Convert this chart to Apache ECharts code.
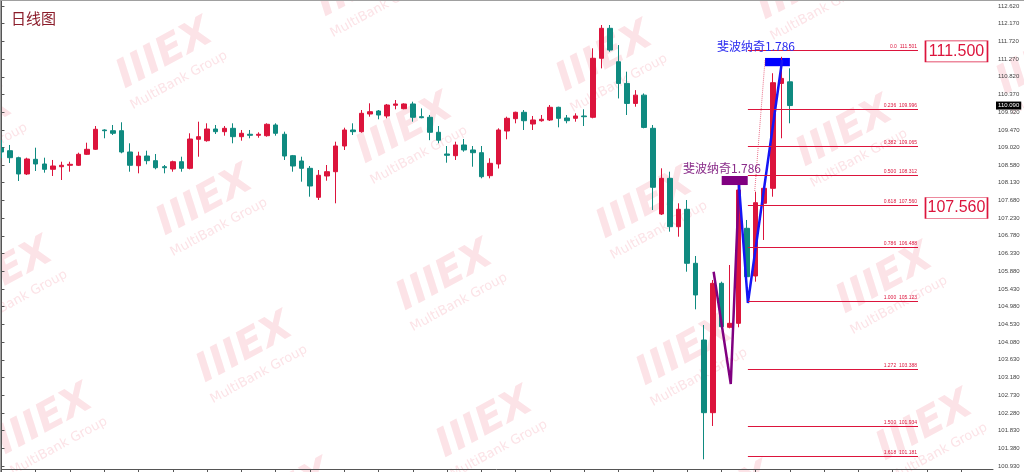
<!DOCTYPE html>
<html><head><meta charset="utf-8">
<script src="https://cdn.jsdelivr.net/npm/echarts@6/dist/echarts.min.js"></script>
<style>
html,body{margin:0;padding:0;background:#fff;}
#wrap{position:relative;width:1024px;height:472px;}
#c{position:absolute;left:0;top:0;width:1024px;height:472px;}
#frame{position:absolute;left:0;top:0;width:1024px;height:472px;border-top:1px solid #a0a0a0;border-left:1px solid #a0a0a0;box-sizing:border-box;pointer-events:none;}
</style>
</head><body>
<div id="wrap"><div id="c"></div><div id="frame"></div></div>
<script>
// ---- daily candles (index 0..92) ----
const opens = [109.011,108.943,108.765,108.351,108.724,108.605,108.470,108.536,108.572,108.572,
108.851,108.978,109.469,109.451,109.451,108.910,108.562,108.808,108.689,108.536,
108.478,108.663,108.495,109.233,109.197,109.494,109.426,109.512,109.299,109.360,
109.334,109.324,109.596,109.360,108.816,108.681,108.495,107.758,108.300,108.409,
109.062,109.469,109.426,109.875,109.952,109.825,110.097,110.010,110.130,109.807,
109.792,109.411,108.859,108.816,109.088,108.961,108.892,108.308,108.605,109.443,
109.756,109.919,109.621,109.705,109.723,110.046,109.774,109.766,109.825,109.792,
111.291,112.053,111.203,110.653,110.144,110.355,109.512,107.334,108.241,107.011,
107.454,106.081,104.132,102.285,105.573,104.455,104.556,106.971,105.759,107.606,
107.987,110.653,110.693];
const closes = [108.910,108.765,108.351,108.732,108.605,108.470,108.554,108.572,108.597,108.851,
108.978,109.487,109.451,109.385,108.910,108.572,108.808,108.689,108.511,108.511,
108.663,108.495,109.240,109.299,109.494,109.426,109.512,109.299,109.385,109.334,
109.360,109.614,109.385,108.808,108.554,108.495,108.046,108.318,108.409,109.062,
109.469,109.426,109.893,109.934,109.850,110.104,110.130,110.130,109.792,109.782,
109.411,109.210,108.826,109.088,108.961,108.892,108.282,108.622,109.469,109.766,
109.919,109.705,109.723,109.741,110.046,109.766,109.705,109.825,109.807,111.291,
112.053,111.501,110.653,110.144,110.355,109.534,108.013,108.241,107.011,107.454,
106.081,105.276,102.285,105.573,104.470,104.556,107.944,105.741,107.621,107.987,
110.671,110.780,110.090];
const highs = [109.215,109.088,108.790,108.765,109.019,108.765,108.707,108.663,108.663,108.892,
109.146,109.570,109.487,109.596,109.665,109.131,108.917,108.943,108.859,108.579,
108.689,108.790,109.385,109.680,109.639,109.596,109.570,109.639,109.469,109.469,
109.410,109.639,109.639,109.426,108.834,108.790,108.554,108.452,108.579,109.172,
109.527,109.639,109.977,110.147,109.977,110.130,110.231,110.147,110.188,110.017,
109.850,109.570,109.062,109.172,109.240,109.062,109.062,108.750,109.512,109.807,
109.934,109.977,109.825,109.850,110.104,110.061,109.850,109.893,109.995,111.545,
112.137,112.137,111.627,110.951,110.482,110.398,109.596,108.495,108.409,107.606,
107.690,106.267,104.513,105.657,105.614,106.038,108.028,107.182,107.901,108.028,
110.911,111.330,111.037];
const lows = [108.757,108.630,108.173,108.325,108.427,108.384,108.300,108.198,108.409,108.554,
108.834,108.961,109.258,109.342,108.877,108.409,108.368,108.597,108.470,108.368,
108.409,108.409,108.470,108.790,109.172,109.367,109.324,109.131,109.197,109.258,
109.273,109.299,109.324,108.707,108.409,108.155,107.774,107.690,108.180,107.606,
108.961,109.342,109.400,109.807,109.741,109.766,109.995,109.995,109.680,109.766,
109.210,109.131,108.638,108.707,108.917,108.536,108.241,108.241,108.490,109.233,
109.639,109.469,109.469,109.680,109.698,109.537,109.639,109.680,109.570,109.766,
111.035,111.458,110.271,109.850,110.061,109.512,107.436,107.309,106.885,106.757,
105.868,104.912,101.100,101.947,104.429,104.429,104.455,105.446,105.614,106.674,
107.774,109.258,109.639];
const lastPrice = 110.090;

// ---- price axis tick labels ----
const yTickLabels = ['112.620','112.170','111.720','111.270','110.820','110.370','109.920','109.470',
'109.020','108.580','108.130','107.680','107.230','106.780','106.330','105.880','105.430','104.980',
'104.530','104.080','103.630','103.180','102.730','102.280','101.830','101.380','100.930'];

// ---- Fibonacci levels ----
const fibRatios = ['0.0','0.236','0.382','0.500','0.618','0.786','1.000','1.272','1.500','1.618'];
const fibPrices = [111.501,109.996,109.065,108.312,107.560,106.488,105.123,103.388,101.934,101.181];
const fibStartBar = 87.1, fibEndBar = 106.95;
const boxedLevels = ['111.500','107.560'];
const boxedPrices = [111.466,107.487];
const boxedBar = 111.44;

// ---- drawn wave lines (bar index, price) ----
const purpleWaveBars = [83.1, 85.1, 86.06];
const purpleWavePrices = [105.868, 103.015, 108.071];
const blueWaveBars = [86.06, 87.1, 91.1];
const blueWavePrices = [108.071, 105.072, 111.248];
const dottedBars = [87.9, 89.1];
const dottedPrices = [107.92, 111.25];
const purpleBox = [[84.04, 108.300],[87.08, 108.070]];
const blueBox = [[89.1, 111.300],[92.0, 111.090]];
const fiboText = '斐波纳奇1.786';
const purpleTextPos = [84.08, 108.503];
const blueTextPos = [88.05, 111.605];

const X_MIN = -0.17, X_MAX = 115.7;
const Y_MAX = 112.7725, Y_MIN = 100.8537;
const RED = '#dc143c', TEAL = '#0f8a80';

const candleData = opens.map((o,i)=>[i, o, closes[i], lows[i], highs[i]]);
const xTicks = []; for (let t=0;t<=112;t+=4) xTicks.push(t);
const yTickValues = yTickLabels.map(parseFloat);

// watermark decoration
const wm = [];
for (let i=-1;i<=4;i++) for (let j=-2;j<=3;j++){
  const x=165+240*i-200*j, y=55+75*i+72*j;
  if (x>-90 && x<1080 && y>-50 && y<530) {
    wm.push({type:'group', x:x, y:y, rotation:0.5, silent:true, z:0, children:[
      {type:'text', style:{text:'IIIEX', x:0, y:0, align:'center', verticalAlign:'middle', font:'bold italic 40px "DejaVu Sans"', fill:'#fce3e7'}},
      {type:'text', style:{text:'MultiBank Group', x:0, y:29, align:'center', verticalAlign:'middle', font:'13px "DejaVu Sans"', fill:'#fce3e7'}}
    ]});
  }
}

const chart = echarts.init(document.getElementById('c'), null, {renderer:'canvas'});
const fibLines = fibPrices.map((p,k)=>[
  {coord:[fibStartBar, p], name: fibRatios[k]+'  '+p.toFixed(3)},
  {coord:[fibEndBar, p]}
]);
chart.setOption({
  animation:false,
  backgroundColor:'#fff',
  title:{text:'日线图', left:6, top:6, textStyle:{color:'#8b1c2a', fontSize:15, fontWeight:'normal', fontFamily:'Noto Sans CJK SC'}},
  graphic: wm,
  grid:{left:0, right:31, top:0, bottom:3, containLabel:false},
  xAxis:{type:'value', min:X_MIN, max:X_MAX,
    axisLine:{show:true, onZero:false, lineStyle:{color:'#555', width:1}},
    axisTick:{show:true, length:3, lineStyle:{color:'#555'}, customValues:xTicks},
    axisLabel:{show:false}, splitLine:{show:false}},
  yAxis:{type:'value', position:'right', min:Y_MIN, max:Y_MAX,
    axisLine:{show:true, lineStyle:{color:'#555', width:1}},
    axisTick:{show:true, length:3, lineStyle:{color:'#555'}, customValues:yTickValues},
    axisLabel:{show:true, customValues:yTickValues, formatter:v=>v.toFixed(3), fontSize:6, color:'#444', margin:5, fontFamily:'Liberation Sans'},
    splitLine:{show:false}},
  series:[
    {type:'candlestick', data:candleData, barWidth:5, z:3,
      itemStyle:{color:RED, color0:TEAL, borderColor:RED, borderColor0:TEAL, borderWidth:1},
      markLine:{silent:true, symbol:['none','none'], animation:false,
        label:{show:true, position:'insideEndTop', formatter:'{b}', fontSize:5, color:RED, distance:1, fontFamily:'Liberation Sans'},
        lineStyle:{color:RED, width:1, type:'solid'},
        emphasis:{disabled:true},
        data: fibLines.concat([{yAxis:lastPrice, lineStyle:{color:'rgba(0,0,0,0)', width:1},
          label:{position:'end', formatter:lastPrice.toFixed(3), color:'#fff', backgroundColor:'#000', fontSize:6, padding:[1,2], distance:3}}])
      },
      markPoint:{silent:true, animation:false, symbol:'rect', symbolSize:[62,21],
        itemStyle:{color:'#fff', borderColor:RED, borderWidth:1},
        label:{show:true, position:'inside', formatter:'{c}', color:RED, fontSize:16, fontFamily:'Liberation Sans'},
        data: boxedLevels.map((t,k)=>({coord:[boxedBar, boxedPrices[k]], value:t}))
      }
    },
    {type:'line', name:'purple', data:purpleWaveBars.map((b,k)=>[b, purpleWavePrices[k]]), symbol:'none', z:4,
      lineStyle:{color:'#800080', width:2.5},
      markArea:{silent:true, itemStyle:{color:'#800080', opacity:1}, data:[[{coord:purpleBox[0]},{coord:purpleBox[1]}]]},
      markPoint:{silent:true, symbol:'circle', symbolSize:1, itemStyle:{color:'rgba(0,0,0,0)'},
        label:{show:true, position:'inside', formatter:fiboText, color:'#8a2d8a', fontSize:12, fontFamily:'Noto Sans CJK SC'},
        data:[{coord:purpleTextPos, value:1}]}
    },
    {type:'line', name:'blue', data:blueWaveBars.map((b,k)=>[b, blueWavePrices[k]]), symbol:'none', z:4,
      lineStyle:{color:'#1515f5', width:2.5},
      markArea:{silent:true, itemStyle:{color:'#0000ff', opacity:1}, data:[[{coord:blueBox[0]},{coord:blueBox[1]}]]},
      markPoint:{silent:true, symbol:'circle', symbolSize:1, itemStyle:{color:'rgba(0,0,0,0)'},
        label:{show:true, position:'inside', formatter:fiboText, color:'#2b2bf0', fontSize:12, fontFamily:'Noto Sans CJK SC'},
        data:[{coord:blueTextPos, value:1}]}
    },
    {type:'line', name:'dotted', data:dottedBars.map((b,k)=>[b, dottedPrices[k]]), symbol:'none', z:2,
      lineStyle:{color:'rgba(220,20,60,0.6)', width:1, type:'dotted'}}
  ]
});
</script>
</body></html>
